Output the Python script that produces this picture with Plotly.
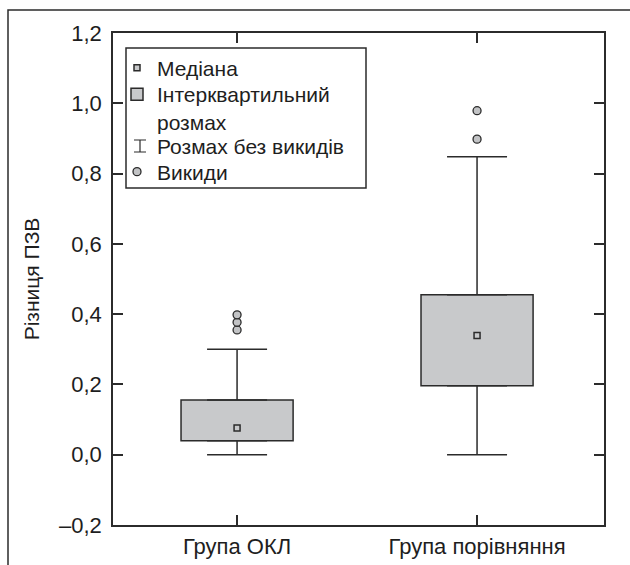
import plotly.graph_objects as go

# ---- data ----
CATEGORIES = ["Група ОКЛ", "Група порівняння"]
Q1 = [0.040, 0.196]
MEDIAN = [0.076, 0.339]
Q3 = [0.156, 0.455]
LOWER_FENCE = [0.0, 0.0]
UPPER_FENCE = [0.300, 0.848]
OUTLIERS_OKL = [0.355, 0.377, 0.398]
OUTLIERS_CMP = [0.898, 0.979]
Y_TICKS = [-0.2, 0.0, 0.2, 0.4, 0.6, 0.8, 1.0, 1.2]
Y_TICK_LABELS = ["–0,2", "0,0", "0,2", "0,4", "0,6", "0,8", "1,0", "1,2"]
Y_TITLE = "Різниця ПЗВ"
LEGEND_NAMES = ["Медіана", "Інтерквартильний<br>розмах", "Розмах без викидів", "Викиди"]

FONT = "Liberation Sans, Arial, sans-serif"
INK = "#2b2b2b"
TXT = "#1e1e1e"
BOX_FILL = "#c8c9cb"
OUT_FILL = "#c2c3c5"

W, H = 630, 565
ML, MR, MT, MB = 113, 26, 33, 40
PW, PH = W - ML - MR, H - MT - MB


def px(xp):
    return (xp - ML) / PW


def py(yp):
    return (H - MB - yp) / PH


xpos = list(range(len(CATEGORIES)))

fig = go.Figure()

# interquartile boxes
fig.add_trace(go.Bar(
    x=xpos, y=[q3 - q1 for q1, q3 in zip(Q1, Q3)], base=Q1, width=0.467,
    marker=dict(color=BOX_FILL, line=dict(color=INK, width=1.5)),
    name=LEGEND_NAMES[1], legend="legend2", hoverinfo="skip",
))

# whiskers (from box edges to fences)
wy = Q3 + Q1
wplus = [u - q for u, q in zip(UPPER_FENCE, Q3)] + [0] * len(Q1)
wminus = [0] * len(Q3) + [q - l for q, l in zip(Q1, LOWER_FENCE)]
fig.add_trace(go.Scatter(
    x=xpos + xpos, y=wy, mode="markers",
    marker=dict(size=1, color="rgba(0,0,0,0)"),
    error_y=dict(type="data", symmetric=False, array=wplus, arrayminus=wminus,
                 width=30, thickness=1.5, color=INK),
    name=LEGEND_NAMES[2], legend="legend3", hoverinfo="skip",
))

# medians
fig.add_trace(go.Scatter(
    x=xpos, y=MEDIAN, mode="markers",
    marker=dict(symbol="square", size=6, color=BOX_FILL, line=dict(color=INK, width=1.5)),
    name=LEGEND_NAMES[0], legend="legend", hoverinfo="skip",
))

# outliers
ox = [xpos[0]] * len(OUTLIERS_OKL) + [xpos[1]] * len(OUTLIERS_CMP)
fig.add_trace(go.Scatter(
    x=ox, y=OUTLIERS_OKL + OUTLIERS_CMP, mode="markers",
    marker=dict(symbol="circle", size=8, color=OUT_FILL, line=dict(color=INK, width=1.3)),
    name=LEGEND_NAMES[3], legend="legend4", hoverinfo="skip",
))

shapes = [
    # outer frame (top and left edges visible)
    dict(type="rect", xref="paper", yref="paper", x0=px(8), x1=1.3, y0=-0.3, y1=py(10),
         line=dict(color=INK, width=1.5), layer="above"),
    # legend frame
    dict(type="rect", xref="paper", yref="paper", x0=px(126), x1=px(366), y0=py(188), y1=py(48),
         line=dict(color=INK, width=1.5)),
    # whisker glyph in the legend
    dict(type="path", xref="paper", yref="paper", xsizemode="pixel", ysizemode="pixel",
         xanchor=px(140), yanchor=py(146),
         path="M-6,-6 H6 M0,-6 V6 M-6,6 H6", line=dict(color=INK, width=1.2)),
]


def leg(ycenter):
    return dict(x=px(117), y=py(ycenter), xanchor="left", yanchor="middle",
                bgcolor="rgba(0,0,0,0)", borderwidth=0, valign="top",
                font=dict(family=FONT, size=21, color=TXT),
                itemclick=False, itemdoubleclick=False)


fig.update_layout(
    template="none",
    width=W, height=H,
    margin=dict(l=ML, r=MR, t=MT, b=MB, autoexpand=False),
    paper_bgcolor="white", plot_bgcolor="white",
    font=dict(family=FONT, size=22, color=TXT),
    showlegend=True,
    barmode="overlay",
    legend=leg(68), legend2=leg(108), legend3=leg(146), legend4=leg(172),
    shapes=shapes,
    xaxis=dict(range=[-0.517, 1.529], tickvals=xpos, ticktext=CATEGORIES,
               ticks="inside", ticklen=10, tickwidth=1.5, tickcolor=INK,
               showline=True, linewidth=1.5, linecolor=INK, mirror="ticks",
               showgrid=False, zeroline=False, tickfont=dict(size=22),
               ticklabelstandoff=1, fixedrange=True, automargin=False),
    yaxis=dict(range=[-0.2, 1.2], tickvals=Y_TICKS, ticktext=Y_TICK_LABELS,
               ticks="inside", ticklen=10, tickwidth=1.5, tickcolor=INK,
               showline=True, linewidth=1.5, linecolor=INK, mirror="ticks",
               showgrid=False, zeroline=False, tickfont=dict(size=22),
               ticklabelstandoff=5, fixedrange=True, automargin=False,
               title=dict(text=Y_TITLE, font=dict(size=21), standoff=14)),
)

fig.write_html("out.html", config={"displayModeBar": False},
               post_script="document.body.style.margin='0px';")
